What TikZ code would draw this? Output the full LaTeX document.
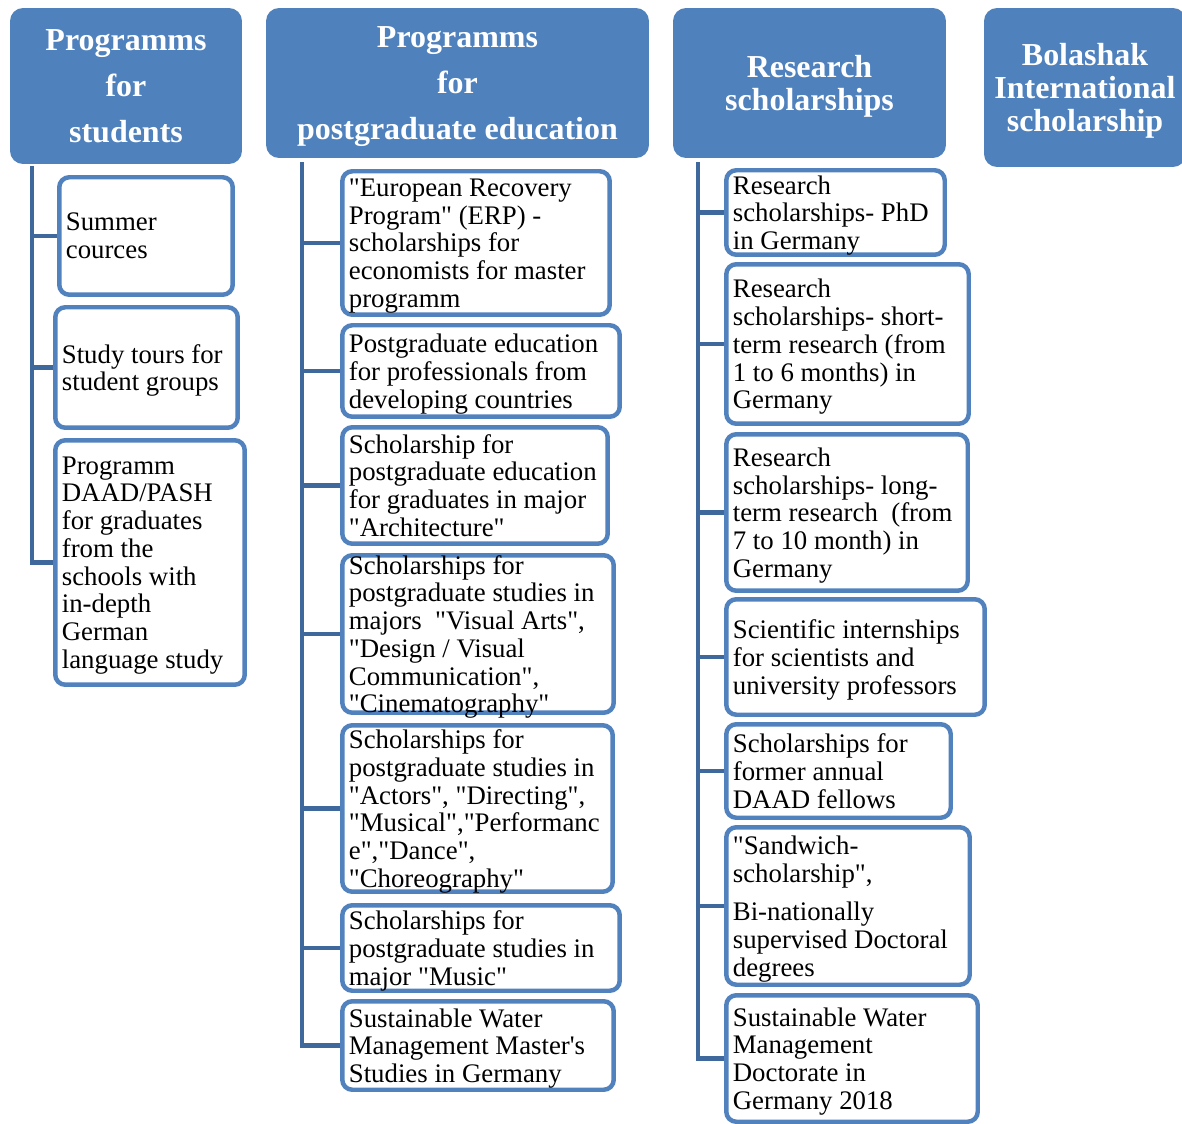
\documentclass[tikz,border=0pt]{standalone}
\usepackage{fontspec}
\setmainfont{Liberation Serif}
\definecolor{hdrblue}{HTML}{4F81BD}
\definecolor{boxblue}{HTML}{5182BE}
\definecolor{linkblue}{HTML}{3F699D}
\newcommand{\dq}{\textquotedbl}
\newcommand{\lastln}[1]{\raisebox{0pt}[\height][0pt]{#1}}
\tikzset{
  hdr/.style={fill=hdrblue,rounded corners=0.26cm,text=white,align=center,inner sep=0pt,
    font=\bfseries\fontsize{18.2}{26.2}\selectfont},
  hdrtight/.style={font=\bfseries\fontsize{18.2}{18.8}\selectfont},
  item/.style={draw=boxblue,line width=2.55pt,rounded corners=0.2cm,inner sep=0pt},
  wh/.style 2 args={minimum width=#1*0.2mm,minimum height=#2*0.2mm},
  txt/.style={font=\fontsize{15.25}{15.8}\selectfont,align=left,inner sep=0pt,anchor=west,xshift=1.7mm},
  link/.style={draw=linkblue,line width=2.8pt},
}

\begin{document}
\begin{tikzpicture}[x=0.02cm,y=-0.02cm]
  \useasboundingbox (0,0) rectangle (1182,1124);
  % ---------- headers ----------
  \node[hdr,wh={232}{156}] (hs) at (126,86) {Programms\\for\\students};
  \node[hdr,wh={383}{150}] (hp) at (457.5,83) {Programms\\for\\\lastln{postgraduate education}};
  \node[hdr,hdrtight,wh={273}{150}] (hr) at (809.5,83) {Research\\\lastln{scholarships}};
  \node[hdr,hdrtight,wh={202}{159}] (hb) at (1085,87.5) {Bolashak\\International\\\lastln{scholarship}};

  % ---------- students ----------
  \node[item,wh={173.5}{117.5}] (s1) at (146,236) {};
  \node[txt] (s1t) at (s1.west) {Summer\\cources};
  \node[item,wh={182.5}{120.5}] (s2) at (146.5,367.5) {};
  \node[txt] (s2t) at (s2.west) {Study tours for\\\lastln{student groups}};
  \node[item,wh={189.5}{244.5}] (s3) at (150,562.5) {};
  \node[txt] (s3t) at (s3.west) {Programm\\DAAD/PASH\\for graduates\\from the\\schools with\\in-depth\\German\\\lastln{language study}};
  \coordinate (ts) at (32,166);
  \draw[link] (ts) |- (s3.west);
  \foreach \b in {s1,s2} \draw[link] (ts |- \b.west) -- (\b.west);

  % ---------- postgraduate ----------
  \node[item,wh={267.5}{143.5}] (p1) at (476,243) {};
  \node[txt] (p1t) at (p1.west) {\dq European Recovery\\Program\dq{} (ERP) -\\scholarships for\\economists for master\\\lastln{programm}};
  \node[item,wh={277.5}{91.5}] (p2) at (481,371) {};
  \node[txt] (p2t) at (p2.west) {Postgraduate education\\for professionals from\\\lastln{developing countries}};
  \node[item,wh={265.5}{116.5}] (p3) at (475,485.5) {};
  \node[txt] (p3t) at (p3.west) {Scholarship for\\postgraduate education\\for graduates in major\\\dq Architecture\dq};
  \node[item,wh={271.5}{157.5}] (p4) at (478,634) {};
  \node[txt] (p4t) at (p4.west) {Scholarships for\\postgraduate studies in\\majors\ \ \dq Visual Arts\dq,\\\dq Design / Visual\\Communication\dq,\\\lastln{\dq Cinematography\dq}};
  \node[item,wh={270.5}{166.5}] (p5) at (477.5,808.5) {};
  \node[txt] (p5t) at (p5.west) {Scholarships for\\postgraduate studies in\\\dq Actors\dq, \dq Directing\dq,\\\dq Musical\dq,\dq Performanc\\e\dq,\dq Dance\dq,\\\lastln{\dq Choreography\dq}};
  \node[item,wh={277.5}{85.5}] (p6) at (481,948) {};
  \node[txt] (p6t) at (p6.west) {Scholarships for\\postgraduate studies in\\\lastln{major \dq Music\dq}};
  \node[item,wh={271.5}{88.5}] (p7) at (478,1045.5) {};
  \node[txt] (p7t) at (p7.west) {Sustainable Water\\Management Master\textquotesingle s\\\lastln{Studies in Germany}};
  \coordinate (tp) at (302,162);
  \draw[link] (tp) |- (p7.west);
  \foreach \b in {p1,p2,p3,p4,p5,p6} \draw[link] (tp |- \b.west) -- (\b.west);

  % ---------- research ----------
  \node[item,wh={218.5}{84.5}] (r1) at (835.5,212.5) {};
  \node[txt] (r1t) at (r1.west) {Research\\scholarships- PhD\\\lastln{in Germany}};
  \node[item,wh={242.5}{159.5}] (r2) at (847.5,344) {};
  \node[txt] (r2t) at (r2.west) {Research\\scholarships- short-\\term research (from\\1 to 6 months) in\\\lastln{Germany}};
  \node[item,wh={241.5}{156.5}] (r3) at (847,512.5) {};
  \node[txt] (r3t) at (r3.west) {Research\\scholarships- long-\\term research\ \ (from\\7 to 10 month) in\\\lastln{Germany}};
  \node[item,wh={258.5}{115.5}] (r4) at (855.5,657) {};
  \node[txt] (r4t) at (r4.west) {Scientific internships\\for scientists and\\\lastln{university professors}};
  \node[item,wh={224.5}{93.5}] (r5) at (838.5,771) {};
  \node[txt] (r5t) at (r5.west) {Scholarships for\\former annual\\DAAD fellows};
  \node[item,wh={243.5}{157.5}] (r6) at (848,906) {};
  \node[txt] (r6t) at (r6.west) {\dq Sandwich-\\scholarship\dq,\\[6pt]Bi-nationally\\supervised Doctoral\\\lastln{degrees}};
  \node[item,wh={251.5}{126.5}] (r7) at (852,1058.5) {};
  \node[txt] (r7t) at (r7.west) {Sustainable Water\\Management\\Doctorate in\\\lastln{Germany 2018}};
  \coordinate (tr) at (698,162);
  \draw[link] (tr) |- (r7.west);
  \foreach \b in {r1,r2,r3,r4,r5,r6} \draw[link] (tr |- \b.west) -- (\b.west);

\end{tikzpicture}
\end{document}
